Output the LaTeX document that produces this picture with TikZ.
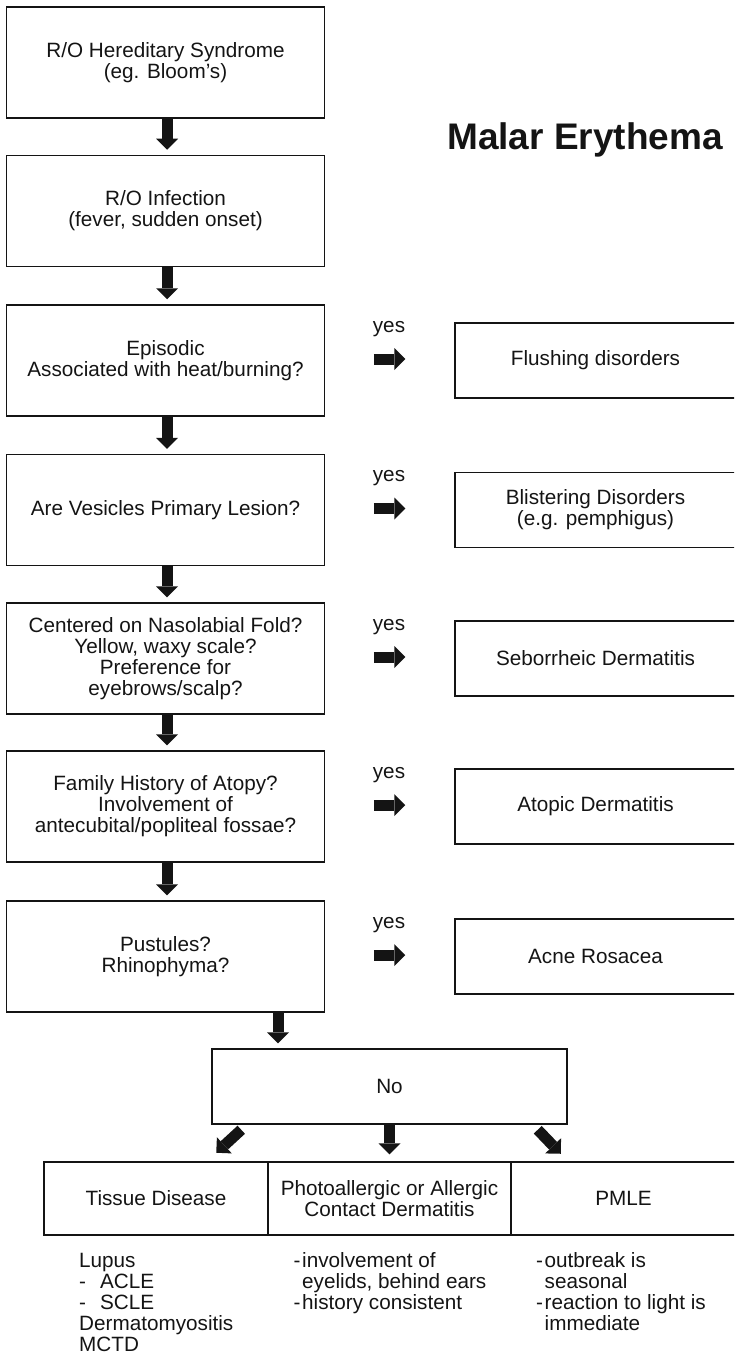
\documentclass[tikz,border=0pt]{standalone}
\usepackage{fontspec}
\setmainfont{Liberation Sans}
\usetikzlibrary{arrows.meta}
\definecolor{ink}{gray}{0.08}
\begin{document}
\begin{tikzpicture}[x=1pt,y=-1pt,
  txt/.style={font=\fontsize{20.7}{21}\selectfont, text=ink},
  boxline/.style={draw=ink, line width=1.5pt, align=center, inner sep=0pt},
  stepbox/.style={txt, boxline, minimum width=318pt, minimum height=111pt},
  outbox/.style={txt, boxline, minimum width=281pt, minimum height=75pt},
  cell/.style={txt, boxline, minimum height=73pt},
  fat/.style={draw=ink, line width=11pt, line cap=butt,
    -{Triangle[length=11pt 0 0, width=22pt 0 0, line width=0pt 0 0]}},
  yeslabel/.style={txt, anchor=base, inner sep=0pt},
  notes/.style={txt, anchor=base west, inner sep=0pt},
]
\useasboundingbox (0,0) rectangle (734,1356);
\clip (0,0) rectangle (734,1356);

% title
\node[font=\fontsize{37}{40}\selectfont\bfseries, text=ink, anchor=base, inner sep=0pt]
  (title) at (585,150) {Malar Erythema};

% main column of questions
\node[stepbox] (b1) at (165.5,62.5) {R/O Hereditary Syndrome\\(eg. Bloom's)};
\node[stepbox] (b2) at (165.5,211)  {R/O Infection\\(fever, sudden onset)};
\node[stepbox] (b3) at (165.5,360.5) {Episodic\\Associated with heat/burning?};
\node[stepbox] (b4) at (165.5,510)  {Are Vesicles Primary Lesion?};
\node[stepbox] (b5) at (165.5,658.5) {Centered on Nasolabial Fold?\\Yellow, waxy scale?\\Preference for\\eyebrows/scalp?};
\node[stepbox] (b6) at (165.5,806.5) {Family History of Atopy?\\Involvement of\\antecubital/popliteal fossae?};
\node[stepbox] (b7) at (165.5,956.5) {Pustules?\\Rhinophyma?};

% outcomes on the right
\node[outbox] (r3) at (595.5,360.5) {Flushing disorders};
\node[outbox] (r4) at (595.5,510)   {Blistering Disorders\\(e.g. pemphigus)};
\node[outbox] (r5) at (595.5,658.5) {Seborrheic Dermatitis};
\node[outbox] (r6) at (595.5,806.5) {Atopic Dermatitis};
\node[outbox] (r7) at (595.5,956.5) {Acne Rosacea};

% downward arrows between questions
\coordinate (col) at (167,0);
\foreach \a/\b in {b1/b2, b2/b3, b3/b4, b4/b5, b5/b6, b6/b7}
  \draw[fat] (\a.south -| col) -- ([yshift=5pt]\b.north -| col);

% "yes" arrows with their labels
\coordinate (ycol) at (389,0);
\foreach \k in {3,...,7} {
  \draw[fat] ([xshift=48.5pt,yshift=1.5pt]b\k.east) -- ([xshift=-49pt,yshift=1.5pt]r\k.west);
  \path (b\k.center -| ycol) ++(0,-28.5) node[yeslabel] (yes\k) {yes};
}

% "No" box and the three final categories
\node[txt, boxline, minimum width=355pt, minimum height=75pt] (no) at (389.5,1086.5) {No};
\coordinate (drop) at (278,0);
\draw[fat] (b7.south -| drop) -- ([yshift=5pt]no.north -| drop);

\node[cell, minimum width=224pt] (td) at (156,1198.5) {Tissue Disease};
\node[cell, minimum width=243pt] (pa) at (389.5,1198.5) {Photoallergic or Allergic\\Contact Dermatitis};
\node[cell, minimum width=225pt] (pm) at (623.5,1198.5) {PMLE};

\draw[fat] ([shift={(30,5)}]no.south west) -- ([shift={(5,28)}]no.south west);
\draw[fat] (no.south) -- ([yshift=7pt]pa.north);
\draw[fat] ([shift={(-30,5)}]no.south east) -- ([shift={(-7,29)}]no.south east);

% notes under each category
\node[notes] (n1) at (79,1267) {\begin{tabular}[t]{@{}l@{}}
  Lupus\\
  \makebox[21pt][l]{-}ACLE\\
  \makebox[21pt][l]{-}SCLE\\
  Dermatomyositis\\
  MCTD
\end{tabular}};
\node[notes] (n2) at (293.5,1267) {\begin{tabular}[t]{@{}l@{}}
  \makebox[8.5pt][l]{-}involvement of\\
  \makebox[8.5pt][l]{}eyelids, behind ears\\
  \makebox[8.5pt][l]{-}history consistent
\end{tabular}};
\node[notes] (n3) at (536,1267) {\begin{tabular}[t]{@{}l@{}}
  \makebox[8.5pt][l]{-}outbreak is\\
  \makebox[8.5pt][l]{}seasonal\\
  \makebox[8.5pt][l]{-}reaction to light is\\
  \makebox[8.5pt][l]{}immediate
\end{tabular}};
\end{tikzpicture}
\end{document}
